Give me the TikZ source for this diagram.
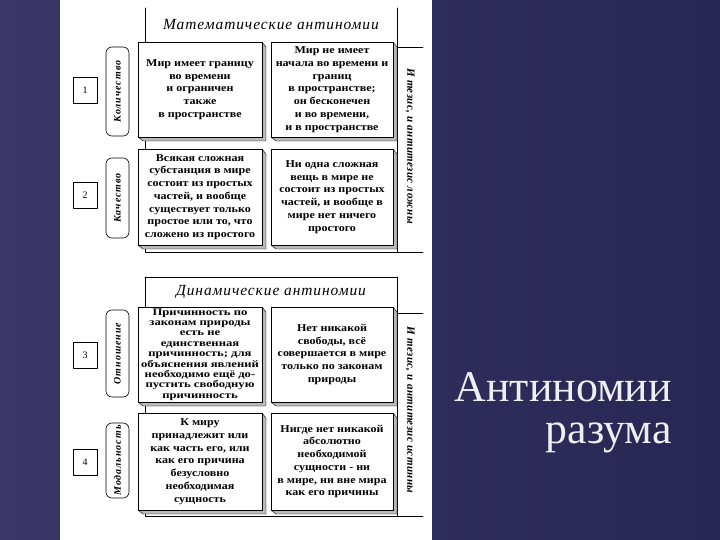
\documentclass[tikz,border=0pt]{standalone}
\usepackage{fontspec}
\setmainfont{Liberation Serif}
\usepackage{tikz}
\usepackage{xcolor}
\definecolor{slidedark}{RGB}{40,38,82}
\definecolor{slidelight}{RGB}{58,55,104}
\definecolor{slidetext}{RGB}{238,238,244}

\begin{document}
\begin{tikzpicture}[x=1bp,y=-1bp,line cap=round,line join=round]
    % styles
    \tikzstyle{card}=[fill=white,draw=black,line width=0.7bp]
    \tikzstyle{bevel}=[fill=gray!55,draw=black,line width=0.4bp]
    \tikzstyle{frame}=[draw=black,line width=0.7bp]
    \tikzstyle{cardtext}=[font=\fontsize{10.5}{12.8}\selectfont\bfseries\addfontfeatures{FakeStretch=1.15},align=center,inner sep=0pt]
    \tikzstyle{numbox}=[draw=black,line width=0.6bp,minimum width=24bp,minimum height=26bp,inner sep=0pt,font=\fontsize{10}{12}\selectfont]
    \tikzstyle{kind}=[draw=black,line width=0.6bp,rounded corners=6bp,inner sep=0pt]
    \tikzstyle{kindtext}=[rotate=90,font=\fontsize{10}{11}\selectfont\bfseries\itshape\addfontfeatures{LetterSpace=10}]
    \tikzstyle{verdict}=[rotate=-90,font=\fontsize{11}{12}\selectfont\bfseries\itshape\addfontfeatures{LetterSpace=4}]
    \tikzstyle{heading}=[font=\fontsize{15.5}{17}\selectfont\itshape\addfontfeatures{LetterSpace=6}]
    \tikzstyle{slide}=[font=\fontsize{44}{42}\selectfont,text=slidetext,inner sep=0pt,align=right]

    \useasboundingbox (0,0) rectangle (720,540);
    % background of the slide
    \shade[left color=slidelight,right color=slidedark] (0,0) rectangle (720,540);
    \fill[white] (60,0) rectangle (432,540);

    % ----------------------------------------------------
    % mathematical antinomies
    % ----------------------------------------------------
    \begin{scope}[shift={(0,0)}]
      % frame
      \path[frame] (145,8) -- (145,252) -- (423,252);
      \path[frame] (397,8) -- (397,252);
      \path[frame] (397,47) -- (423,47);
      \node[heading] (mathhead) at (271,25) {Математические антиномии};

      % row 1
      \node[numbox] (num1) at (85,90) {1};
      \path[kind] (106,47) rectangle (129,136);
      \node[kindtext] (kind1) at (117.5,91.5) {Количество};
      \path[bevel] (262,42) -- (266,47) -- (266,141) -- (143,141) -- (138,137) -- cycle;
      \path[card] (138,42) rectangle (262,137);
      \node[cardtext] (thesis1) at (200,89.5) {Мир имеет границу\\во времени\\и ограничен\\также\\в пространстве};
      \path[bevel] (393,42) -- (397,47) -- (397,141) -- (276,141) -- (271,137) -- cycle;
      \path[card] (271,42) rectangle (393,137);
      \node[cardtext] (anti1) at (332,89.5) {Мир не имеет\\начала во времени и\\границ\\в пространстве;\\он бесконечен\\и во времени,\\и в пространстве};

      % row 2
      \node[numbox] (num2) at (85,195) {2};
      \path[kind] (106,158) rectangle (129,238);
      \node[kindtext] (kind2) at (117.5,198) {Качество};
      \path[bevel] (262,149) -- (266,154) -- (266,249) -- (143,249) -- (138,245) -- cycle;
      \path[card] (138,149) rectangle (262,245);
      \node[cardtext] (thesis2) at (200,197) {Всякая сложная\\субстанция в мире\\состоит из простых\\частей, и вообще\\существует только\\простое или то, что\\сложено из простого};
      \path[bevel] (393,149) -- (397,154) -- (397,249) -- (276,249) -- (271,245) -- cycle;
      \path[card] (271,149) rectangle (393,245);
      \node[cardtext] (anti2) at (332,197) {Ни одна сложная\\вещь в мире не\\состоит из простых\\частей, и вообще в\\мире нет ничего\\простого};

      \node[verdict] (false) at (410,146) {И тезис, и антитезис ложны};
    \end{scope}

    % ----------------------------------------------------
    % dynamical antinomies
    % ----------------------------------------------------
    \begin{scope}[shift={(0,265)}]
      % frame
      \path[frame] (145,12) -- (397,12);
      \path[frame] (145,12) -- (145,251) -- (423,251);
      \path[frame] (397,12) -- (397,251);
      \path[frame] (397,48) -- (423,48);
      \node[heading] (dynhead) at (271,27) {Динамические антиномии};

      % row 3
      \node[numbox] (num3) at (85,90) {3};
      \path[kind] (106,45) rectangle (129,132);
      \node[kindtext] (kind3) at (117.5,88.5) {Отношение};
      \path[bevel] (262,42) -- (266,47) -- (266,141) -- (143,141) -- (138,137) -- cycle;
      \path[card] (138,42) rectangle (262,137);
      \node[cardtext,font=\fontsize{10}{10.4}\selectfont\bfseries\addfontfeatures{FakeStretch=1.27}] (thesis3) at (200,89.5) {Причинность по\\законам природы\\есть не\\единственная\\причинность; для\\объяснения явлений\\необходимо ещё до-\\пустить свободную\\причинность};
      \path[bevel] (393,42) -- (397,47) -- (397,141) -- (276,141) -- (271,137) -- cycle;
      \path[card] (271,42) rectangle (393,137);
      \node[cardtext] (anti3) at (332,89.5) {Нет никакой\\свободы, всё\\совершается в мире\\только по законам\\природы};

      % row 4
      \node[numbox] (num4) at (85,197) {4};
      \path[kind] (106,158) rectangle (129,233);
      \node[kindtext] (kind4) at (117.5,195.5) {Модальность};
      \path[bevel] (262,148) -- (266,153) -- (266,249) -- (143,249) -- (138,245) -- cycle;
      \path[card] (138,148) rectangle (262,245);
      \node[cardtext] (thesis4) at (200,196.5) {К миру\\принадлежит или\\как часть его, или\\как его причина\\безусловно\\необходимая\\сущность};
      \path[bevel] (393,148) -- (397,153) -- (397,249) -- (276,249) -- (271,245) -- cycle;
      \path[card] (271,148) rectangle (393,245);
      \node[cardtext] (anti4) at (332,196.5) {Нигде нет никакой\\абсолютно\\необходимой\\сущности - ни\\в мире, ни вне мира\\как его причины};

      \node[verdict] (true) at (410,145) {И тезис, и антитезис истинны};
    \end{scope}

    % slide title
    \node[slide,anchor=base east] (title) at (672,443) {Антиномии\\разума};
\end{tikzpicture}
\end{document}
